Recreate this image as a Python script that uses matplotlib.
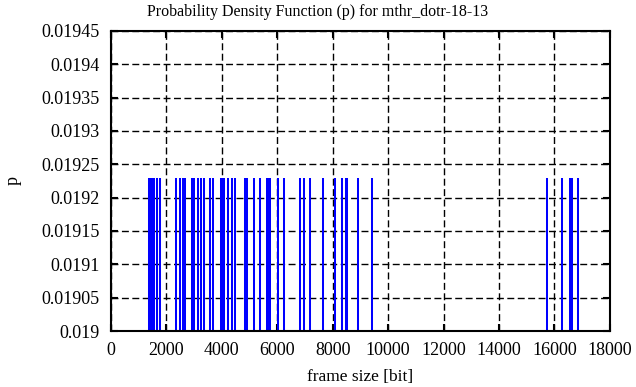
import matplotlib
matplotlib.use('Agg')
import matplotlib.pyplot as plt

# frame sizes [bit]
frame_sizes = [1371, 1461, 1497, 1521, 1551, 1659, 1768,
               2345, 2489, 2615, 2669, 2922, 2958, 2994, 3138, 3247, 3355,
               3571, 3679, 3986, 4040, 4094, 4220, 4365, 4473,
               4834, 4870, 4906, 5176, 5393, 5645, 5699, 5736, 6024, 6259,
               6818, 6980, 7196, 7647, 8080, 8351, 8477, 8504, 8531, 8928, 9433,
               15728, 16269, 16558, 16611, 16648, 16846]
p = [0.01923] * len(frame_sizes)

x_ticks = list(range(0, 18001, 2000))
y_ticks = [0.019, 0.01905, 0.0191, 0.01915, 0.0192, 0.01925,
           0.0193, 0.01935, 0.0194, 0.01945]
y_labels = ['0.019', '0.01905', '0.0191', '0.01915', '0.0192', '0.01925',
            '0.0193', '0.01935', '0.0194', '0.01945']

plt.rcParams['font.family'] = ['Liberation Serif', 'DejaVu Serif']

fig = plt.figure(figsize=(6.36, 3.87), dpi=100)
ax = fig.add_axes([0.1745, 0.1447, 0.7845, 0.7753])

ax.vlines(frame_sizes, 0.019, p, color='#0000ff', linewidth=1.45)

ax.set_xlim(0, 18000)
ax.set_ylim(0.019, 0.01945)
ax.set_xticks(x_ticks)
ax.set_yticks(y_ticks)
ax.set_yticklabels(y_labels)

ax.grid(True, color='black', linestyle=(0, (5, 2.5)), linewidth=1.0)
ax.set_axisbelow(True)
for s in ax.spines.values():
    s.set_linewidth(1.5)
ax.tick_params(direction='in', length=5, width=1.5, top=True, right=True,
               labelsize=13, pad=8, colors='black')

# title centred on the whole figure, like gnuplot
fig.text(0.5, 0.968, 'Probability Density Function (p) for mthr_dotr-18-13',
         fontsize=11.5, ha='center', va='center')
ax.set_xlabel('frame size [bit]', fontsize=12.5, labelpad=7)
ax.set_ylabel('p', fontsize=13, labelpad=14)

fig.savefig('out.png', dpi=100)
